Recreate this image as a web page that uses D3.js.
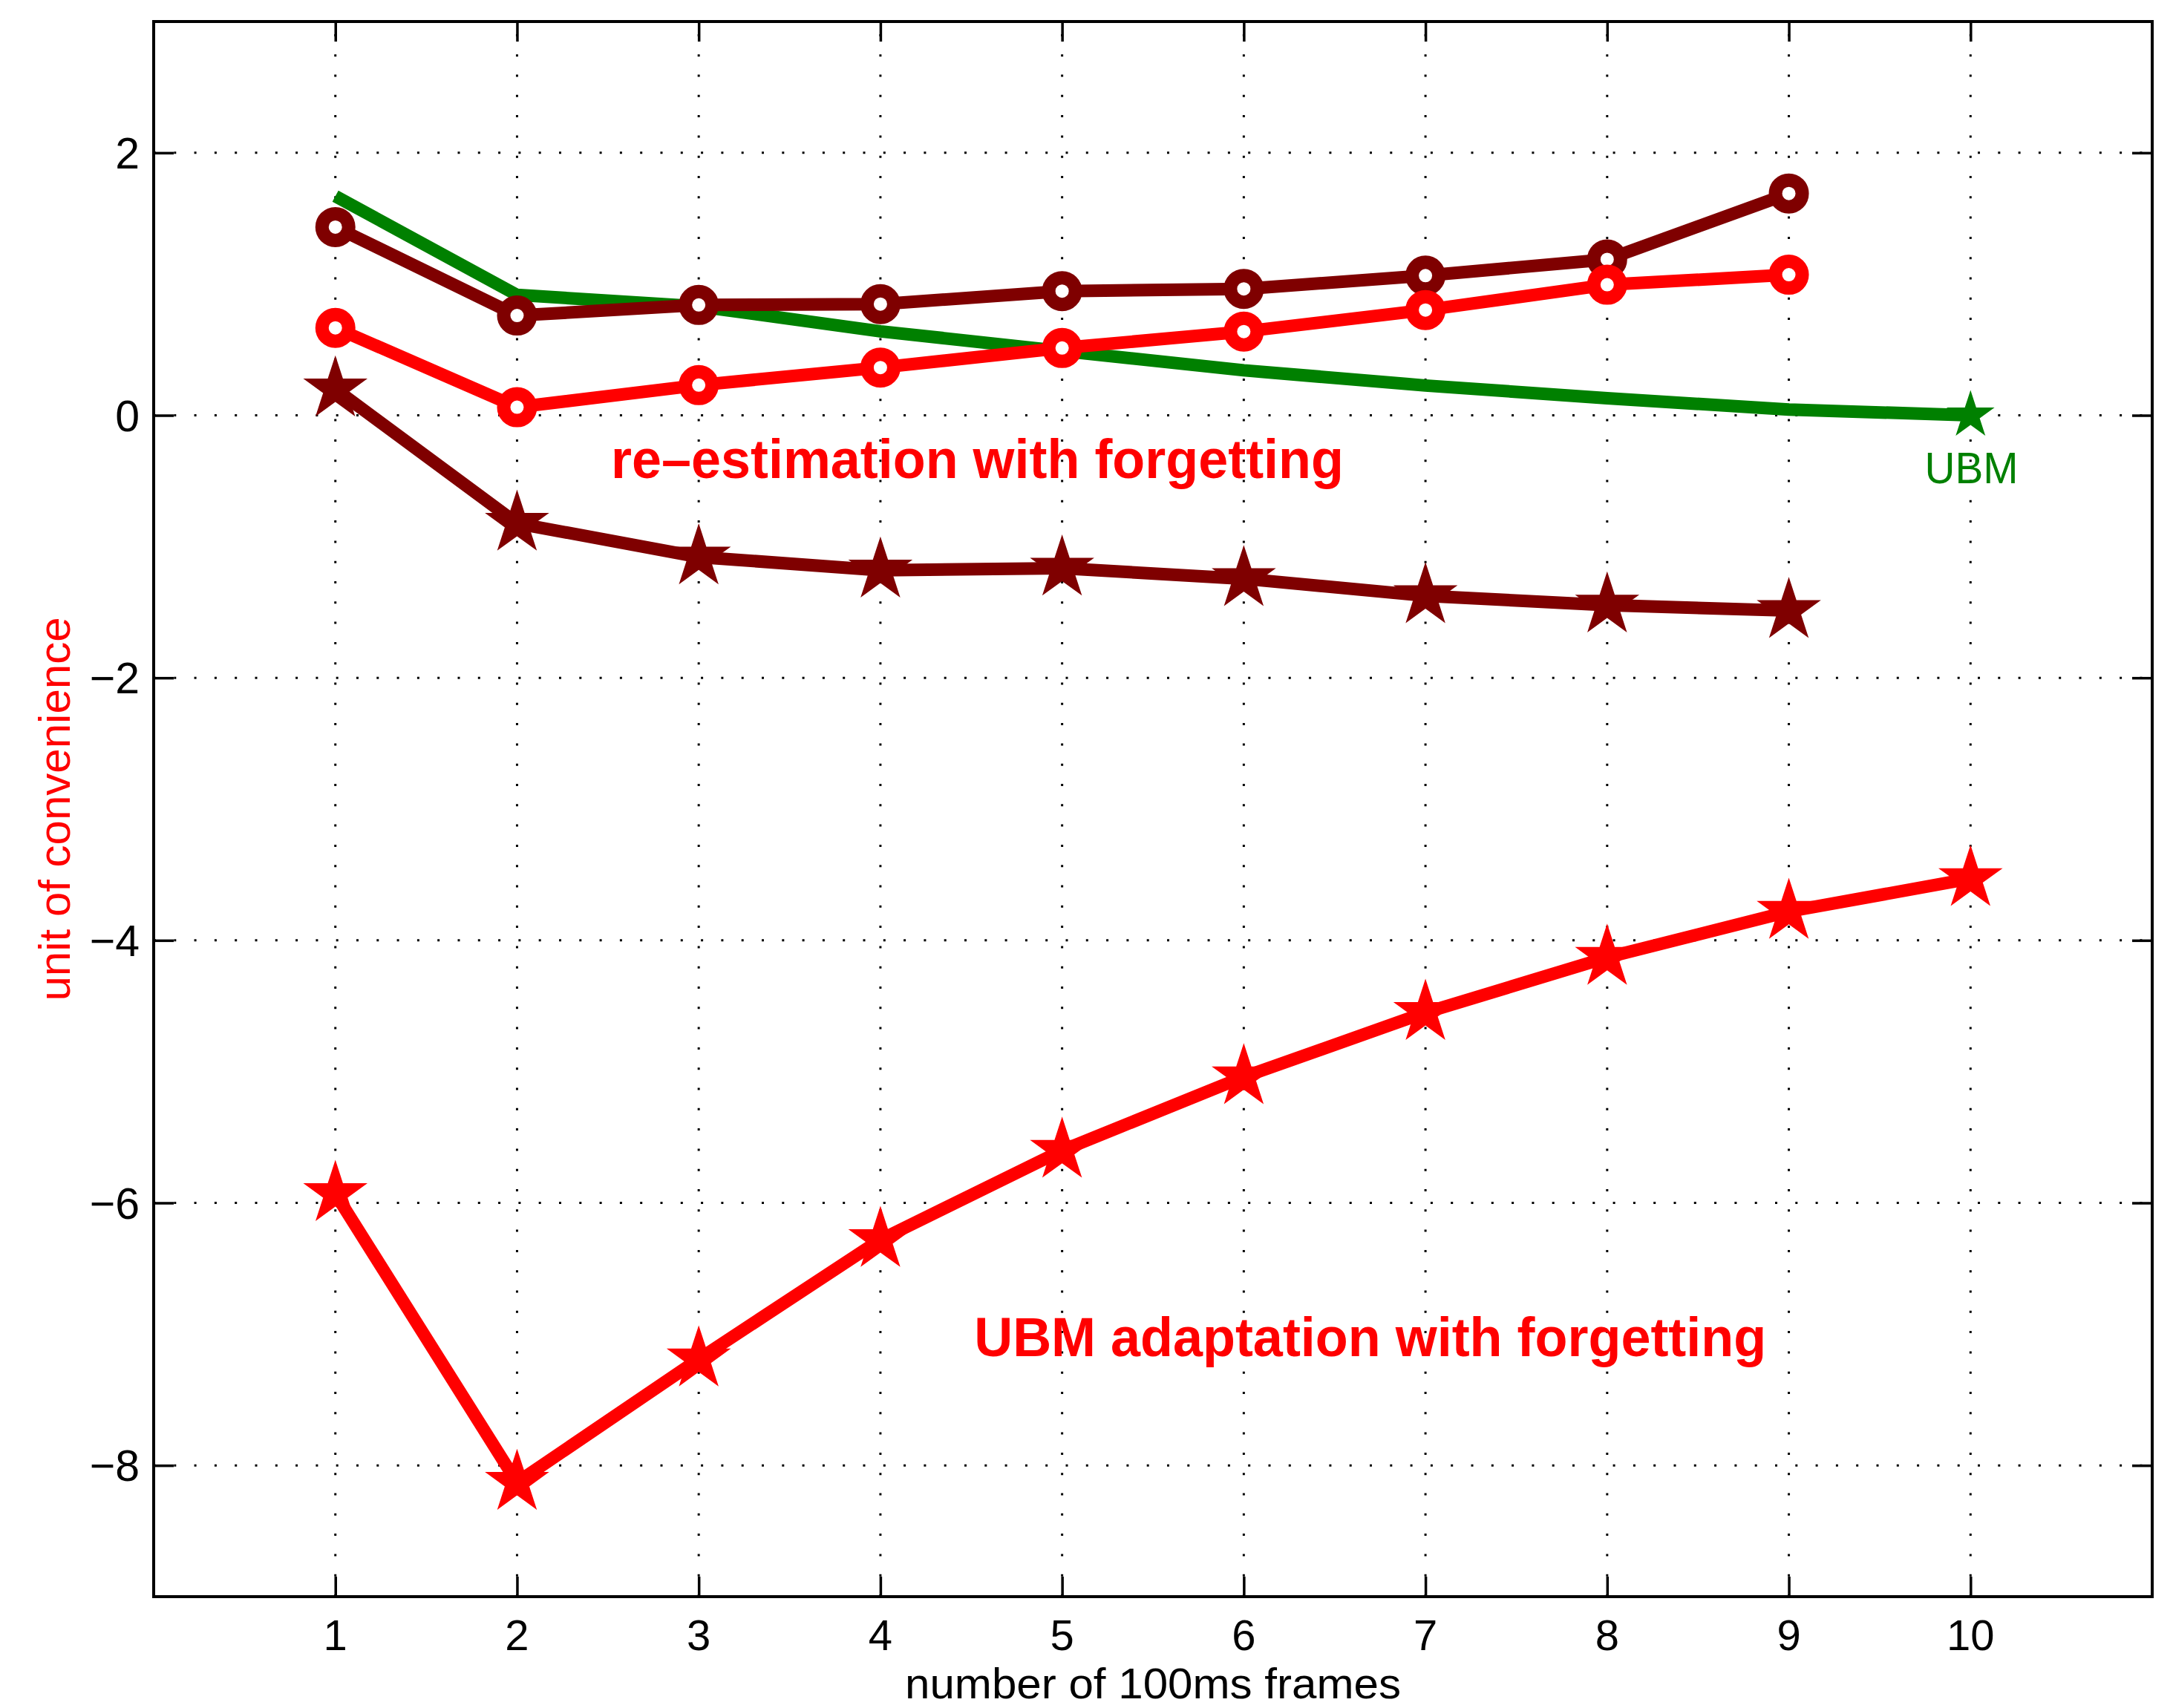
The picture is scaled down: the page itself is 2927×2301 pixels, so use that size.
<!DOCTYPE html>
<html><head><meta charset="utf-8">
<script src="https://cdn.jsdelivr.net/npm/d3@7"></script>
<style>html,body{margin:0;padding:0;background:#fff;} svg{display:block;}</style>
</head><body>
<script>
// ---- data ----
const frames = [1, 2, 3, 4, 5, 6, 7, 8, 9, 10];
const ubmBaseline      = [1.67, 0.917, 0.83, 0.64, 0.49, 0.343, 0.227, 0.13, 0.044, 0.0];
const reestDarkCircle  = [1.434, 0.76, 0.841, 0.847, 0.946, 0.963, 1.064, 1.188, 1.69];
const reestRedCircle   = [0.666, 0.062, 0.23, 0.364, 0.513, 0.638, 0.802, 0.995, 1.071];
const reestDarkStar    = [0.2, -0.823, -1.08, -1.18, -1.165, -1.245, -1.375, -1.446, -1.488];
const adaptRedStar     = [-5.93, -8.13, -7.19, -6.28, -5.60, -5.04, -4.55, -4.13, -3.78, -3.53];
const xTicks = [1, 2, 3, 4, 5, 6, 7, 8, 9, 10];
const yTicks = [-8, -6, -4, -2, 0, 2];
const xLabel = "number of 100ms frames";
const yLabel = "unit of convenience";
const annotations = [
  {text: "re\u2013estimation with forgetting", x: 2.517, y: -0.48, color: "#ff0000", bold: true, len: 987, anchor: "start", size: 74},
  {text: "UBM adaptation with forgetting", x: 4.516, y: -7.17, color: "#ff0000", bold: true, len: 1067, anchor: "start", size: 74},
  {text: "UBM", x: 10.005, y: -0.52, color: "#008000", bold: false, len: 126, anchor: "middle", size: 60}
];

// ---- layout ----
const W = 2927, H = 2301;
const L = 207, R = 2899, T = 29, B = 2151;
const FONT = "'Liberation Sans', Arial, Helvetica, sans-serif";
const RED = "#ff0000", DARK = "#7f0000", GREEN = "#008000";

const svg = d3.select("body").append("svg").attr("width", W).attr("height", H)
  .style("background", "#fff");

const x = d3.scaleLinear().domain([0, 11]).range([L, R]);
const y = d3.scaleLinear().domain([-9, 3]).range([B, T]);

// grid
const grid = svg.append("g");
grid.selectAll(".vg").data(xTicks).join("line")
  .attr("x1", d => x(d)).attr("x2", d => x(d)).attr("y1", B).attr("y2", T)
  .attr("stroke", "#000").attr("stroke-width", 3).attr("stroke-dasharray", "3,24.3");
grid.selectAll(".hg").data(yTicks).join("line")
  .attr("x1", L).attr("x2", R).attr("y1", d => y(d)).attr("y2", d => y(d))
  .attr("stroke", "#000").attr("stroke-width", 3).attr("stroke-dasharray", "3,24.3");

// axes via d3.axis (inner ticks on all sides)
const tickLen = 27;
function styleAxis(g) {
  g.select(".domain").remove();
  g.selectAll(".tick line").attr("stroke", "#000").attr("stroke-width", 3.5);
  g.selectAll(".tick text").remove();
}
svg.append("g").attr("transform", `translate(0,${B})`)
  .call(d3.axisBottom(x).tickValues(xTicks).tickSize(-tickLen)).call(styleAxis);
svg.append("g").attr("transform", `translate(0,${T})`)
  .call(d3.axisTop(x).tickValues(xTicks).tickSize(-tickLen)).call(styleAxis);
svg.append("g").attr("transform", `translate(${L},0)`)
  .call(d3.axisLeft(y).tickValues(yTicks).tickSize(-tickLen)).call(styleAxis);
svg.append("g").attr("transform", `translate(${R},0)`)
  .call(d3.axisRight(y).tickValues(yTicks).tickSize(-tickLen)).call(styleAxis);

// tick labels
svg.append("g").selectAll("text").data(xTicks).join("text")
  .attr("x", d => x(d)).attr("y", 2223).attr("text-anchor", "middle")
  .attr("font-family", FONT).attr("font-size", 58).attr("fill", "#000")
  .text(d => d);
svg.append("g").selectAll("text").data(yTicks).join("text")
  .attr("x", L - 19).attr("y", d => y(d) + 21).attr("text-anchor", "end")
  .attr("font-family", FONT).attr("font-size", 59).attr("fill", "#000")
  .text(d => d < 0 ? "\u2212" + Math.abs(d) : String(d));

// axis titles
svg.append("text").attr("x", (L + R) / 2).attr("y", 2288).attr("text-anchor", "middle")
  .attr("font-family", FONT).attr("font-size", 57).attr("fill", "#000")
  .attr("textLength", 668).attr("lengthAdjust", "spacingAndGlyphs").text(xLabel);
svg.append("text").attr("transform", `translate(94,${(T + B) / 2}) rotate(-90)`)
  .attr("text-anchor", "middle").attr("font-family", FONT).attr("font-size", 60)
  .attr("fill", RED).text(yLabel);

// series
const line = d3.line().x((d, i) => x(frames[i])).y(d => y(d));
function drawLine(vals, color) {
  svg.append("path").datum(vals).attr("d", line).attr("fill", "none")
    .attr("stroke", color).attr("stroke-width", 17).attr("stroke-linejoin", "round");
}
function starSymbol(R0) {
  return d3.symbol().type(d3.symbolStar).size(R0 * R0 / 0.8908130915292852);
}
function drawStars(vals, color, R0) {
  svg.append("g").selectAll("path").data(vals).join("path")
    .attr("transform", (d, i) => `translate(${x(frames[i])},${y(d)})`)
    .attr("d", starSymbol(R0)).attr("fill", color);
}
function drawCircles(vals, color) {
  svg.append("g").selectAll("circle").data(vals).join("circle")
    .attr("cx", (d, i) => x(frames[i])).attr("cy", d => y(d)).attr("r", 18)
    .attr("fill", "#fff").attr("stroke", color).attr("stroke-width", 18);
}

drawLine(ubmBaseline, GREEN);
// green star only at the last frame
const gi = ubmBaseline.length - 1;
svg.append("path")
  .attr("transform", `translate(${x(frames[gi])},${y(ubmBaseline[gi])})`)
  .attr("d", starSymbol(34)).attr("fill", GREEN);

drawLine(reestDarkStar, DARK);
drawStars(reestDarkStar, DARK, 45.5);
drawLine(adaptRedStar, RED);
drawStars(adaptRedStar, RED, 45.5);
drawLine(reestDarkCircle, DARK);
drawCircles(reestDarkCircle, DARK);
drawLine(reestRedCircle, RED);
drawCircles(reestRedCircle, RED);

// annotations
svg.append("g").selectAll("text").data(annotations).join("text")
  .attr("x", d => x(d.x)).attr("y", d => y(d.y)).attr("text-anchor", d => d.anchor)
  .attr("font-family", FONT).attr("font-size", d => d.size)
  .attr("font-weight", d => d.bold ? "bold" : "normal").attr("fill", d => d.color)
  .attr("textLength", d => d.len).attr("lengthAdjust", "spacingAndGlyphs")
  .text(d => d.text);

// box
svg.append("rect").attr("x", L).attr("y", T).attr("width", R - L).attr("height", B - T)
  .attr("fill", "none").attr("stroke", "#000").attr("stroke-width", 4);
</script>
</body></html>
